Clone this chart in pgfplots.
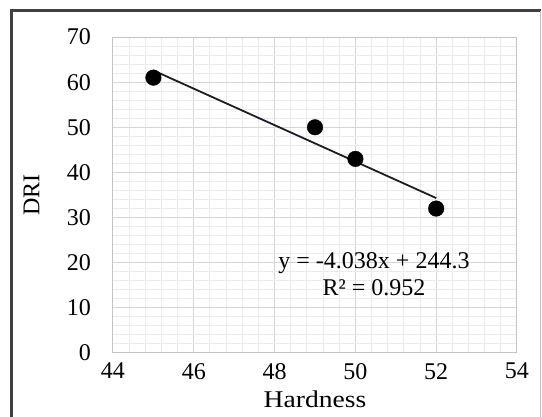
\documentclass[border=0pt]{standalone}
\usepackage{fontspec}
\setmainfont{Liberation Serif}
\newfontfamily\widefont[FakeStretch=1.15]{Liberation Serif}
\usepackage{pgfplots}
\pgfplotsset{compat=1.18}
\definecolor{majgrid}{HTML}{D6D6D6}
\definecolor{mingrid}{HTML}{EBEBEB}
\definecolor{axline}{HTML}{C4C4C4}
\definecolor{framec}{HTML}{404040}
\definecolor{framer}{HTML}{BFBFBF}
\definecolor{trend}{HTML}{1A1E26}
\begin{document}
\begin{tikzpicture}
\fontsize{24}{27}\selectfont
\path[use as bounding box] (-113pt,-64pt) rectangle (429pt,353pt);
\fill[white] (-113pt,-64pt) rectangle (429pt,353pt);
\draw[framec, line width=3pt] (-101pt,-70pt) -- (-101pt,342pt) -- (427.7pt,342pt);
\draw[framer, line width=1.5pt] (427.7pt,342pt) -- (427.7pt,-70pt);
\begin{axis}[
  at={(0pt,0pt)}, anchor=south west, scale only axis,
  width=404pt, height=316pt,
  xmin=44, xmax=54, ymin=0, ymax=70,
  xtick={44,46,48,50,52,54}, ytick={0,10,20,30,40,50,60,70},
  minor x tick num=4, minor y tick num=4,
  grid=both,
  major grid style={draw=majgrid, line width=1pt},
  minor grid style={draw=mingrid, line width=1pt},
  axis line style={draw=axline, line width=1pt},
  major tick length=0pt, minor tick length=0pt,
  tick style={draw=none},
  ticklabel style={font=\fontsize{24}{27}\selectfont, text=black},
  /pgf/number format/assume math mode=true,
  yticklabel style={xshift=-14pt},
  xticklabel style={yshift=-2pt},
  xlabel={Hardness}, ylabel={DRI},
  xlabel style={font=\widefont\fontsize{24}{27}\selectfont, at={(axis description cs:0.5,-0.174)}, anchor=base},
  ylabel style={font=\fontsize{24}{27}\selectfont, at={(axis description cs:-0.2017,0.5)}, anchor=center},
  clip=false,
]
\addplot[only marks, mark=*, mark size=7.8pt, black] coordinates {(45,61) (49,50) (50,43) (52,32)};
\addplot[trend, line width=1.8pt] coordinates {(45,62.59) (52,34.32)};
\node[anchor=base, inner sep=0pt] at (axis cs:50.46,18.8) {y = -4.038x + 244.3};
\node[anchor=base, inner sep=0pt] at (axis cs:50.46,12.8) {R² = 0.952};
\end{axis}
\end{tikzpicture}
\end{document}
